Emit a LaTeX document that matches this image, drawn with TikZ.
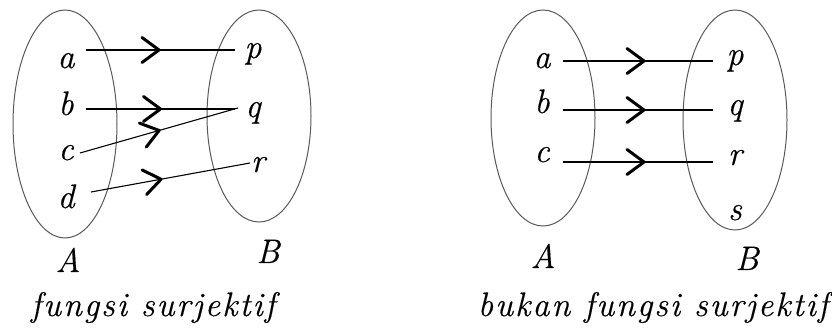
\documentclass[tikz,border=0pt]{standalone}
\usepackage{fontspec}
\newfontfamily\labfont{Latin Modern Roman}[FakeBold=0.4]
\newfontfamily\capfont{Latin Modern Roman}[LetterSpace=6, FakeBold=0.4]
\usetikzlibrary{arrows.meta,decorations.markings}
\tikzset{
  setellipse/.style={draw=black!65, line width=1pt},
  elem/.style={inner sep=0pt, anchor=base, font=\labfont\fontsize{34}{36}\selectfont\itshape},
  caption/.style={inner sep=0pt, anchor=base, font=\capfont\fontsize{34}{36}\selectfont\itshape},
  maparrow/.style={line width=1.1pt, postaction={decorate}, decoration={markings,
      mark=at position #1 with {\arrow{Straight Barb[length=17pt,width=25pt,line width=3pt,round]}}}},
  maparrow/.default=0.5
}
\begin{document}
\begin{tikzpicture}[x=1pt,y=-1pt]
\useasboundingbox (0,0) rectangle (832,328);
% left diagram
\draw[setellipse] (65,124) ellipse [x radius=52, y radius=114];
\draw[setellipse] (259,116) ellipse [x radius=52, y radius=106];
\node[elem] (la) at (66,68) {a};
\node[elem] (lb) at (66,115) {b};
\node[elem] (lc) at (66,160) {c};
\node[elem] (ld) at (66,208) {d};
\node[elem] (lp) at (253,58) {p};
\node[elem] (lq) at (253,117) {q};
\node[elem] (lr) at (258,172) {r};
\node[elem] (lA) at (68,272) {A};
\node[elem] (lB) at (268,263) {B};
\node[caption] (lcap) at (153,316) {fungsi surjektif};
\draw[maparrow=0.5] ([shift={(20,-18)}]la.base) -- ([shift={(-18,-8)}]lp.base);
\draw[maparrow=0.51] ([shift={(20,-6)}]lb.base) -- ([shift={(-18,-8)}]lq.base);
\draw[maparrow=0.51] ([shift={(14,-7)}]lc.base) -- ([shift={(-15,-9)}]lq.base);
\draw[maparrow=0.45] ([shift={(25,-16)}]ld.base) -- ([shift={(-8,-9)}]lr.base);
% right diagram
\draw[setellipse] (543,118) ellipse [x radius=52, y radius=108];
\draw[setellipse] (735,120) ellipse [x radius=52, y radius=110];
\node[elem] (ra) at (542,68) {a};
\node[elem] (rb) at (542,113) {b};
\node[elem] (rc) at (542,162) {c};
\node[elem] (rp) at (735,65) {p};
\node[elem] (rq) at (735,115) {q};
\node[elem] (rr) at (735,165) {r};
\node[elem] (rs) at (735,220) {s};
\node[elem] (rA) at (543,268) {A};
\node[elem] (rB) at (747,270) {B};
\node[caption] (rcap) at (653,316) {bukan fungsi surjektif};
\draw[maparrow=0.55] ([shift={(21,-7)}]ra.base) -- ([shift={(-22,-4)}]rp.base);
\draw[maparrow=0.55] ([shift={(21,-3)}]rb.base) -- ([shift={(-22,-5)}]rq.base);
\draw[maparrow=0.55] ([shift={(21,0)}]rc.base) -- ([shift={(-22,-3)}]rr.base);
\end{tikzpicture}
\end{document}
